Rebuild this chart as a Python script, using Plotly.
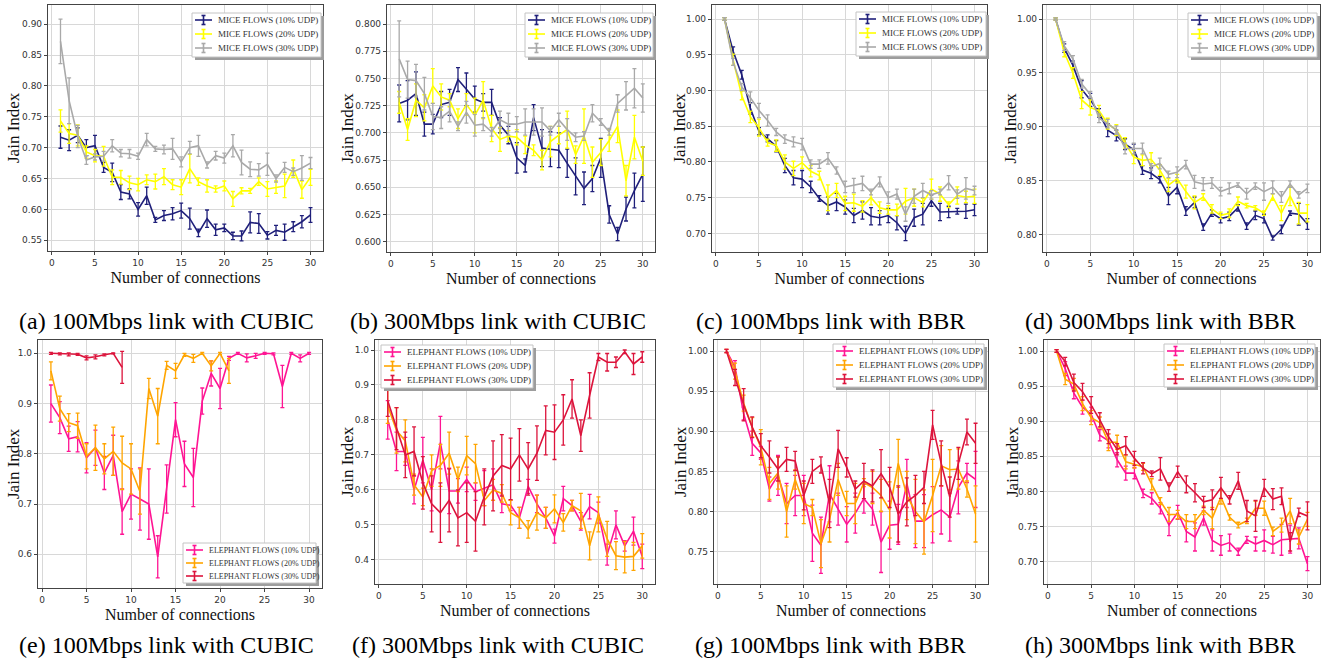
import plotly.graph_objects as go

X = list(range(1, 31))

# ---------------- (a) 100Mbps CUBIC, mice ----------------
A10 = [0.717, 0.712, 0.720, 0.700, 0.703, 0.668, 0.660, 0.628, 0.625, 0.600, 0.622, 0.583, 0.590, 0.593, 0.598,
       0.585, 0.562, 0.585, 0.567, 0.570, 0.557, 0.557, 0.579, 0.577, 0.558, 0.566, 0.563, 0.572, 0.580, 0.591]
A10_E = [0.018, 0.017, 0.012, 0.013, 0.017, 0.008, 0.015, 0.012, 0.008, 0.011, 0.014, 0.004, 0.008, 0.010, 0.012,
         0.017, 0.006, 0.014, 0.009, 0.006, 0.006, 0.008, 0.017, 0.016, 0.006, 0.008, 0.013, 0.008, 0.010, 0.012]
A20 = [0.743, 0.723, 0.720, 0.693, 0.687, 0.686, 0.652, 0.652, 0.643, 0.640, 0.648, 0.645, 0.653, 0.640, 0.636,
       0.666, 0.645, 0.638, 0.633, 0.638, 0.617, 0.630, 0.630, 0.645, 0.633, 0.636, 0.638, 0.666, 0.632, 0.652]
A20_E = [0.018, 0.016, 0.017, 0.010, 0.010, 0.016, 0.012, 0.011, 0.011, 0.010, 0.008, 0.012, 0.013, 0.008, 0.012,
         0.023, 0.006, 0.010, 0.005, 0.008, 0.012, 0.005, 0.004, 0.006, 0.012, 0.010, 0.019, 0.014, 0.014, 0.013]
A30 = [0.872, 0.776, 0.718, 0.680, 0.685, 0.686, 0.703, 0.691, 0.690, 0.686, 0.713, 0.698, 0.697, 0.698, 0.677,
       0.700, 0.703, 0.672, 0.687, 0.683, 0.703, 0.676, 0.665, 0.664, 0.673, 0.650, 0.668, 0.661, 0.667, 0.675]
A30_E = [0.036, 0.037, 0.018, 0.007, 0.005, 0.008, 0.010, 0.006, 0.007, 0.005, 0.010, 0.004, 0.007, 0.017, 0.008,
         0.010, 0.017, 0.005, 0.007, 0.008, 0.018, 0.020, 0.012, 0.010, 0.018, 0.006, 0.008, 0.006, 0.020, 0.009]

# ---------------- (b) 300Mbps CUBIC, mice ----------------
B10 = [0.727, 0.730, 0.736, 0.708, 0.708, 0.726, 0.728, 0.749, 0.740, 0.731, 0.728, 0.728, 0.707, 0.698, 0.677,
       0.670, 0.714, 0.686, 0.685, 0.684, 0.672, 0.660, 0.649, 0.658, 0.677, 0.625, 0.607, 0.630, 0.647, 0.662]
B10_E = [0.017, 0.018, 0.020, 0.011, 0.009, 0.012, 0.012, 0.011, 0.015, 0.012, 0.008, 0.012, 0.007, 0.008, 0.014,
         0.006, 0.012, 0.017, 0.016, 0.016, 0.013, 0.017, 0.015, 0.012, 0.018, 0.008, 0.006, 0.011, 0.016, 0.025]
B20 = [0.728, 0.703, 0.730, 0.723, 0.743, 0.733, 0.730, 0.713, 0.726, 0.716, 0.730, 0.704, 0.694, 0.697, 0.696,
       0.689, 0.684, 0.675, 0.692, 0.698, 0.703, 0.680, 0.697, 0.673, 0.682, 0.693, 0.706, 0.656, 0.696, 0.674]
B20_E = [0.010, 0.010, 0.015, 0.012, 0.016, 0.012, 0.006, 0.009, 0.010, 0.016, 0.017, 0.012, 0.011, 0.005, 0.007,
         0.008, 0.005, 0.009, 0.014, 0.008, 0.017, 0.008, 0.025, 0.014, 0.012, 0.010, 0.015, 0.014, 0.020, 0.013]
B30 = [0.768, 0.749, 0.748, 0.736, 0.715, 0.714, 0.720, 0.706, 0.719, 0.707, 0.708, 0.701, 0.712, 0.708, 0.708,
       0.710, 0.710, 0.710, 0.702, 0.712, 0.703, 0.696, 0.697, 0.718, 0.710, 0.701, 0.727, 0.734, 0.741, 0.732]
B30_E = [0.035, 0.017, 0.015, 0.015, 0.012, 0.010, 0.010, 0.004, 0.010, 0.010, 0.006, 0.004, 0.008, 0.010, 0.007,
         0.012, 0.012, 0.013, 0.004, 0.006, 0.010, 0.004, 0.004, 0.008, 0.003, 0.003, 0.008, 0.013, 0.018, 0.013]

# ---------------- (c) 100Mbps BBR, mice ----------------
C10 = [1.000, 0.955, 0.922, 0.875, 0.843, 0.833, 0.822, 0.795, 0.778, 0.776, 0.765, 0.749, 0.739, 0.744, 0.737,
       0.725, 0.732, 0.724, 0.722, 0.725, 0.715, 0.700, 0.722, 0.727, 0.746, 0.730, 0.730, 0.731, 0.731, 0.733]
C10_E = [0.002, 0.006, 0.006, 0.008, 0.005, 0.005, 0.008, 0.010, 0.010, 0.012, 0.008, 0.004, 0.012, 0.012, 0.010,
         0.010, 0.012, 0.012, 0.010, 0.010, 0.010, 0.010, 0.012, 0.015, 0.008, 0.012, 0.008, 0.004, 0.010, 0.008]
C20 = [1.000, 0.943, 0.893, 0.863, 0.848, 0.827, 0.823, 0.800, 0.791, 0.799, 0.787, 0.781, 0.750, 0.760, 0.742,
       0.743, 0.738, 0.750, 0.736, 0.733, 0.733, 0.745, 0.750, 0.743, 0.762, 0.755, 0.740, 0.753, 0.751, 0.752]
C20_E = [0.002, 0.008, 0.006, 0.008, 0.012, 0.005, 0.008, 0.010, 0.010, 0.008, 0.008, 0.006, 0.018, 0.010, 0.010,
         0.012, 0.008, 0.010, 0.008, 0.006, 0.008, 0.018, 0.012, 0.006, 0.014, 0.010, 0.004, 0.012, 0.008, 0.010]
C30 = [1.000, 0.940, 0.905, 0.890, 0.872, 0.858, 0.842, 0.832, 0.828, 0.825, 0.797, 0.797, 0.805, 0.788, 0.765,
       0.767, 0.770, 0.758, 0.772, 0.750, 0.755, 0.727, 0.752, 0.760, 0.754, 0.758, 0.771, 0.755, 0.763, 0.760]
C30_E = [0.002, 0.005, 0.005, 0.008, 0.010, 0.008, 0.005, 0.006, 0.007, 0.008, 0.006, 0.006, 0.008, 0.005, 0.008,
         0.010, 0.010, 0.004, 0.007, 0.008, 0.007, 0.010, 0.010, 0.010, 0.006, 0.004, 0.010, 0.006, 0.015, 0.006]

# ---------------- (d) 300Mbps BBR, mice ----------------
D10 = [1.000, 0.973, 0.957, 0.935, 0.925, 0.913, 0.897, 0.892, 0.884, 0.879, 0.860, 0.857, 0.851, 0.836, 0.844,
       0.822, 0.830, 0.807, 0.820, 0.815, 0.817, 0.825, 0.808, 0.818, 0.815, 0.797, 0.805, 0.820, 0.819, 0.810]
D10_E = [0.001, 0.004, 0.004, 0.008, 0.006, 0.004, 0.006, 0.005, 0.005, 0.005, 0.004, 0.005, 0.003, 0.008, 0.006,
         0.004, 0.005, 0.003, 0.003, 0.004, 0.004, 0.003, 0.003, 0.004, 0.004, 0.002, 0.004, 0.002, 0.010, 0.005]
D20 = [1.000, 0.969, 0.950, 0.925, 0.918, 0.915, 0.903, 0.897, 0.885, 0.872, 0.869, 0.870, 0.860, 0.846, 0.852,
       0.840, 0.830, 0.835, 0.824, 0.818, 0.820, 0.831, 0.827, 0.825, 0.820, 0.835, 0.820, 0.836, 0.820, 0.820]
D20_E = [0.001, 0.004, 0.005, 0.008, 0.007, 0.005, 0.005, 0.005, 0.005, 0.006, 0.005, 0.006, 0.005, 0.006, 0.004,
         0.006, 0.006, 0.003, 0.004, 0.003, 0.004, 0.004, 0.002, 0.002, 0.002, 0.003, 0.007, 0.009, 0.010, 0.008]
D30 = [1.000, 0.975, 0.963, 0.940, 0.930, 0.908, 0.903, 0.897, 0.880, 0.880, 0.880, 0.863, 0.866, 0.856, 0.858,
       0.865, 0.849, 0.847, 0.848, 0.840, 0.843, 0.846, 0.838, 0.845, 0.840, 0.844, 0.835, 0.847, 0.837, 0.843]
D30_E = [0.001, 0.004, 0.003, 0.004, 0.003, 0.004, 0.004, 0.004, 0.005, 0.005, 0.005, 0.003, 0.005, 0.003, 0.005,
         0.004, 0.006, 0.006, 0.005, 0.004, 0.005, 0.002, 0.005, 0.003, 0.008, 0.006, 0.005, 0.003, 0.003, 0.004]

# ---------------- (e) 100Mbps CUBIC, elephants ----------------
E10 = [0.900, 0.872, 0.830, 0.834, 0.792, 0.812, 0.762, 0.797, 0.685, 0.720, 0.710, 0.700, 0.595, 0.730, 0.868,
       0.780, 0.753, 0.905, 0.960, 0.930, 0.990, 1.000, 0.991, 0.995, 1.000, 0.999, 0.934, 1.000, 0.990, 1.000]
E10_E = [0.037, 0.032, 0.025, 0.030, 0.030, 0.035, 0.033, 0.040, 0.045, 0.050, 0.062, 0.070, 0.042, 0.048, 0.034,
         0.045, 0.058, 0.026, 0.025, 0.040, 0.004, 0.002, 0.008, 0.005, 0.002, 0.002, 0.042, 0.002, 0.007, 0.002]
E20 = [0.965, 0.890, 0.862, 0.856, 0.795, 0.812, 0.790, 0.805, 0.782, 0.770, 0.725, 0.930, 0.875, 0.976, 0.965,
       0.997, 0.990, 1.000, 0.975, 1.000, 0.965]
E20_E = [0.018, 0.025, 0.018, 0.025, 0.025, 0.045, 0.030, 0.048, 0.053, 0.050, 0.045, 0.020, 0.055, 0.008, 0.015,
         0.003, 0.008, 0.002, 0.010, 0.002, 0.025]
E30 = [1.000, 0.999, 0.998, 0.998, 0.991, 0.993, 0.997, 1.000, 0.972]
E30_E = [0.002, 0.002, 0.003, 0.002, 0.004, 0.004, 0.002, 0.001, 0.032]

# ---------------- (f) 300Mbps CUBIC, elephants ----------------
F10 = [0.800, 0.710, 0.710, 0.600, 0.685, 0.600, 0.735, 0.597, 0.597, 0.630, 0.595, 0.605, 0.615, 0.560, 0.556,
       0.520, 0.610, 0.560, 0.520, 0.468, 0.575, 0.555, 0.510, 0.552, 0.535, 0.415, 0.500, 0.440, 0.482, 0.410]
F10_E = [0.055, 0.055, 0.040, 0.040, 0.065, 0.060, 0.075, 0.065, 0.035, 0.035, 0.025, 0.050, 0.045, 0.025, 0.015,
         0.030, 0.020, 0.025, 0.030, 0.020, 0.035, 0.015, 0.025, 0.035, 0.030, 0.030, 0.040, 0.015, 0.040, 0.035]
F20 = [0.840, 0.770, 0.740, 0.615, 0.580, 0.655, 0.670, 0.705, 0.630, 0.698, 0.675, 0.570, 0.600, 0.590, 0.535,
       0.520, 0.487, 0.535, 0.520, 0.546, 0.507, 0.555, 0.540, 0.440, 0.530, 0.460, 0.412, 0.408, 0.410, 0.440]
F20_E = [0.050, 0.065, 0.060, 0.030, 0.025, 0.045, 0.060, 0.060, 0.035, 0.055, 0.055, 0.015, 0.030, 0.025, 0.035,
         0.030, 0.025, 0.050, 0.030, 0.040, 0.025, 0.015, 0.050, 0.040, 0.050, 0.050, 0.040, 0.045, 0.040, 0.035]
F30 = [0.855, 0.775, 0.700, 0.710, 0.620, 0.560, 0.535, 0.570, 0.520, 0.535, 0.510, 0.580, 0.640, 0.670, 0.660,
       0.700, 0.660, 0.705, 0.770, 0.765, 0.800, 0.860, 0.755, 0.870, 0.980, 0.965, 0.965, 0.995, 0.960, 0.980]
F30_E = [0.045, 0.060, 0.065, 0.070, 0.075, 0.080, 0.085, 0.090, 0.080, 0.085, 0.085, 0.080, 0.100, 0.088, 0.088,
         0.075, 0.075, 0.078, 0.070, 0.078, 0.072, 0.055, 0.045, 0.065, 0.010, 0.025, 0.015, 0.005, 0.030, 0.015]

# ---------------- (g) 100Mbps BBR, elephants ----------------
G10 = [1.000, 0.980, 0.922, 0.885, 0.873, 0.828, 0.845, 0.810, 0.820, 0.820, 0.773, 0.758, 0.822, 0.803, 0.784,
       0.798, 0.816, 0.803, 0.762, 0.783, 0.784, 0.835, 0.788, 0.788, 0.796, 0.802, 0.793, 0.830, 0.848, 0.840]
G10_E = [0.002, 0.008, 0.008, 0.015, 0.008, 0.015, 0.025, 0.025, 0.025, 0.025, 0.035, 0.035, 0.035, 0.020, 0.022,
         0.025, 0.018, 0.020, 0.038, 0.030, 0.025, 0.030, 0.033, 0.033, 0.035, 0.030, 0.030, 0.033, 0.012, 0.035]
G20 = [1.000, 0.975, 0.935, 0.905, 0.880, 0.835, 0.848, 0.800, 0.840, 0.810, 0.805, 0.760, 0.790, 0.840, 0.810,
       0.810, 0.836, 0.830, 0.820, 0.802, 0.860, 0.820, 0.800, 0.787, 0.820, 0.857, 0.852, 0.853, 0.828, 0.797]
G20_E = [0.002, 0.010, 0.010, 0.012, 0.022, 0.020, 0.020, 0.032, 0.012, 0.025, 0.010, 0.030, 0.028, 0.020, 0.015,
         0.025, 0.005, 0.020, 0.020, 0.035, 0.030, 0.030, 0.040, 0.040, 0.045, 0.025, 0.025, 0.025, 0.010, 0.035]
G30 = [1.000, 0.967, 0.933, 0.905, 0.882, 0.868, 0.853, 0.865, 0.863, 0.820, 0.850, 0.858, 0.810, 0.878, 0.855,
       0.828, 0.838, 0.832, 0.847, 0.830, 0.797, 0.812, 0.820, 0.830, 0.908, 0.860, 0.818, 0.860, 0.899, 0.885]
G30_E = [0.002, 0.010, 0.020, 0.013, 0.015, 0.020, 0.015, 0.015, 0.012, 0.018, 0.015, 0.010, 0.030, 0.023, 0.012,
         0.010, 0.022, 0.020, 0.030, 0.025, 0.035, 0.030, 0.025, 0.020, 0.018, 0.028, 0.025, 0.020, 0.016, 0.025]

# ---------------- (h) 300Mbps BBR, elephants ----------------
H10 = [1.000, 0.975, 0.940, 0.920, 0.910, 0.880, 0.872, 0.845, 0.826, 0.826, 0.797, 0.790, 0.776, 0.752, 0.770,
       0.743, 0.735, 0.762, 0.730, 0.723, 0.727, 0.714, 0.731, 0.725, 0.730, 0.724, 0.731, 0.732, 0.733, 0.697]
H10_E = [0.002, 0.010, 0.008, 0.010, 0.010, 0.008, 0.010, 0.010, 0.010, 0.008, 0.006, 0.008, 0.008, 0.015, 0.010,
         0.015, 0.020, 0.010, 0.015, 0.014, 0.012, 0.005, 0.005, 0.010, 0.015, 0.012, 0.022, 0.020, 0.015, 0.010]
H20 = [1.000, 0.960, 0.953, 0.925, 0.905, 0.898, 0.870, 0.870, 0.842, 0.838, 0.835, 0.810, 0.786, 0.767, 0.767,
       0.757, 0.757, 0.773, 0.762, 0.792, 0.763, 0.752, 0.758, 0.776, 0.776, 0.743, 0.752, 0.772, 0.735, 0.760]
H20_E = [0.002, 0.008, 0.008, 0.010, 0.010, 0.008, 0.012, 0.010, 0.010, 0.005, 0.005, 0.008, 0.005, 0.010, 0.006,
         0.010, 0.010, 0.006, 0.015, 0.010, 0.004, 0.004, 0.004, 0.010, 0.010, 0.006, 0.010, 0.018, 0.010, 0.010]
H30 = [1.000, 0.985, 0.955, 0.942, 0.923, 0.902, 0.878, 0.860, 0.865, 0.847, 0.833, 0.825, 0.832, 0.806, 0.828,
       0.810, 0.798, 0.785, 0.788, 0.805, 0.788, 0.815, 0.772, 0.765, 0.805, 0.789, 0.793, 0.728, 0.770, 0.765]
H30_E = [0.002, 0.006, 0.012, 0.012, 0.012, 0.010, 0.010, 0.008, 0.013, 0.010, 0.008, 0.004, 0.016, 0.006, 0.008,
         0.012, 0.013, 0.008, 0.014, 0.015, 0.006, 0.012, 0.015, 0.022, 0.012, 0.015, 0.012, 0.013, 0.006, 0.020]

MICE_NAMES = ["MICE FLOWS (10% UDP)", "MICE FLOWS (20% UDP)", "MICE FLOWS (30% UDP)"]
ELE_NAMES = ["ELEPHANT FLOWS (10% UDP)", "ELEPHANT FLOWS (20% UDP)", "ELEPHANT FLOWS (30% UDP)"]
MICE_COLORS = ["#1f1f7a", "#ffff00", "#a9a9a9"]
ELE_COLORS = ["#ff1493", "#ffa500", "#dc143c"]

CAPTIONS = ["(a) 100Mbps link with CUBIC", "(b) 300Mbps link with CUBIC",
            "(c) 100Mbps link with BBR", "(d) 300Mbps link with BBR",
            "(e) 100Mbps link with CUBIC", "(f) 300Mbps link with CUBIC",
            "(g) 100Mbps link with BBR", "(h) 300Mbps link with BBR"]
X_TITLE = "Number of connections"
Y_TITLE = "Jain Index"

W, H = 1322, 665
SERIF = "Liberation Serif, Times New Roman, serif"
SANS = "DejaVu Sans, Verdana, sans-serif"

panels = [
    dict(series=[(A10, A10_E), (A20, A20_E), (A30, A30_E)], names=MICE_NAMES, colors=MICE_COLORS,
         px=(48, 323), py=(5, 251), yr=(0.5326, 0.931), dt=0.05, fmt=".2f", ytx=13,
         leg=dict(l=192, t=13, w=129, h=44, step=14, fs=9), cap=166),
    dict(series=[(B10, B10_E), (B20, B20_E), (B30, B30_E)], names=MICE_NAMES, colors=MICE_COLORS,
         px=(387, 655), py=(5, 252), yr=(0.5905, 0.8175), dt=0.025, fmt=".3f", ytx=347,
         leg=dict(l=525, t=13, w=128, h=44, step=14, fs=9), cap=498),
    dict(series=[(C10, C10_E), (C20, C20_E), (C30, C30_E)], names=MICE_NAMES, colors=MICE_COLORS,
         px=(712, 987), py=(5, 252), yr=(0.674, 1.0196), dt=0.05, fmt=".2f", ytx=679,
         leg=dict(l=856, t=12, w=130, h=44, step=14, fs=9), cap=830),
    dict(series=[(D10, D10_E), (D20, D20_E), (D30, D30_E)], names=MICE_NAMES, colors=MICE_COLORS,
         px=(1043, 1320), py=(5, 252), yr=(0.784, 1.013), dt=0.05, fmt=".2f", ytx=1010,
         leg=dict(l=1188, t=13, w=129, h=44, step=14, fs=9), cap=1160),
    dict(series=[(E10, E10_E), (E20, E20_E), (E30, E30_E)], names=ELE_NAMES, colors=ELE_COLORS,
         px=(38, 322), py=(340, 588), yr=(0.533, 1.0265), dt=0.1, fmt=".1f", ytx=13,
         leg=dict(l=183, t=543, w=133, h=40, step=13, fs=8), cap=166),
    dict(series=[(F10, F10_E), (F20, F20_E), (F30, F30_E)], names=ELE_NAMES, colors=ELE_COLORS,
         px=(375, 655), py=(340, 584), yr=(0.331, 1.0286), dt=0.1, fmt=".1f", ytx=347,
         leg=dict(l=381, t=345, w=152, h=43, step=14, fs=9), cap=498),
    dict(series=[(G10, G10_E), (G20, G20_E), (G30, G30_E)], names=ELE_NAMES, colors=ELE_COLORS,
         px=(714, 988), py=(340, 584), yr=(0.7097, 1.0137), dt=0.05, fmt=".2f", ytx=680,
         leg=dict(l=833, t=344, w=151, h=43, step=14, fs=9), cap=830),
    dict(series=[(H10, H10_E), (H20, H20_E), (H30, H30_E)], names=ELE_NAMES, colors=ELE_COLORS,
         px=(1044, 1320), py=(340, 584), yr=(0.668, 1.0157), dt=0.05, fmt=".2f", ytx=1012,
         leg=dict(l=1164, t=344, w=151, h=43, step=14, fs=9), cap=1160),
]


def px2x(v):
    return v / W


def px2y(v):
    return 1 - v / H


fig = go.Figure()
layout = dict(width=W, height=H, margin=dict(l=0, r=0, t=0, b=0), showlegend=False,
              paper_bgcolor="white", plot_bgcolor="white", annotations=[], shapes=[])

for i, p in enumerate(panels):
    k = i + 1
    xa = "x" if k == 1 else f"x{k}"
    ya = "y" if k == 1 else f"y{k}"
    for (vals, errs), name, col in zip(p["series"], p["names"], p["colors"]):
        fig.add_trace(go.Scatter(
            x=X[:len(vals)], y=vals, name=name, mode="lines",
            line=dict(color=col, width=1.6),
            error_y=dict(type="data", array=errs, visible=True, color=col, thickness=1.3, width=2),
            xaxis=xa, yaxis=ya))
    axcommon = dict(showline=True, linecolor="#444444", linewidth=1.2, mirror=True,
                    showgrid=True, gridcolor="#d8d8d8", gridwidth=1, zeroline=False,
                    ticks="outside", ticklen=3, tickcolor="#444444",
                    tickfont=dict(family=SANS, size=9, color="#333"))
    layout["xaxis" if k == 1 else f"xaxis{k}"] = dict(
        axcommon, domain=[px2x(p["px"][0]), px2x(p["px"][1])], range=[-0.45, 31.45],
        tick0=0, dtick=5, anchor=ya,
        title=dict(text=X_TITLE, font=dict(family=SERIF, size=16, color="#111"), standoff=4))
    layout["yaxis" if k == 1 else f"yaxis{k}"] = dict(
        axcommon, domain=[px2y(p["py"][1]), px2y(p["py"][0])], range=list(p["yr"]),
        dtick=p["dt"], tick0=0, tickformat=p["fmt"], anchor=xa)
    # y-axis title placed as a rotated annotation beside the tick labels
    layout["annotations"].append(dict(
        text=Y_TITLE, textangle=-90, x=px2x(p["ytx"]), y=px2y((p["py"][0] + p["py"][1]) / 2),
        xref="paper", yref="paper", showarrow=False, xanchor="center", yanchor="middle",
        font=dict(family=SERIF, size=17, color="#111")))

    # legend box (matplotlib style with drop shadow)
    L = p["leg"]
    l, t, w, h = L["l"], L["t"], L["w"], L["h"]
    layout["shapes"].append(dict(type="rect", xref="paper", yref="paper", layer="above",
                                 x0=px2x(l + 3), x1=px2x(l + w + 3), y0=px2y(t + h + 3), y1=px2y(t + 3),
                                 fillcolor="#9d9d9d", line=dict(width=0)))
    layout["shapes"].append(dict(type="rect", xref="paper", yref="paper", layer="above",
                                 x0=px2x(l), x1=px2x(l + w), y0=px2y(t + h), y1=px2y(t),
                                 fillcolor="white", line=dict(color="#c4c4c4", width=1)))
    for j, (name, col) in enumerate(zip(p["names"], p["colors"])):
        yc = t + 7 + j * L["step"]
        xm = l + 11.5
        for (x0, y0, x1, y1) in [(l + 3, yc, l + 20, yc), (xm, yc - 4.5, xm, yc + 4.5),
                                 (xm - 2, yc - 4.5, xm + 2, yc - 4.5), (xm - 2, yc + 4.5, xm + 2, yc + 4.5)]:
            layout["shapes"].append(dict(type="line", xref="paper", yref="paper", layer="above",
                                         x0=px2x(x0), x1=px2x(x1), y0=px2y(y0), y1=px2y(y1),
                                         line=dict(color=col, width=1.6)))
        layout["annotations"].append(dict(
            text=name, x=px2x(l + 24), y=px2y(yc), xref="paper", yref="paper", showarrow=False,
            xanchor="left", yanchor="middle", font=dict(family=SERIF, size=L["fs"], color="#333")))

    layout["annotations"].append(dict(
        text=CAPTIONS[i], x=px2x(p["cap"]), y=px2y(321 if i < 4 else 645),
        xref="paper", yref="paper", showarrow=False, xanchor="center", yanchor="middle",
        font=dict(family=SERIF, size=24, color="black")))

fig.update_layout(**layout)
fig.write_html("out.html", config={"displayModeBar": False},
               post_script="document.body.style.margin='0';document.body.style.overflow='hidden';")
